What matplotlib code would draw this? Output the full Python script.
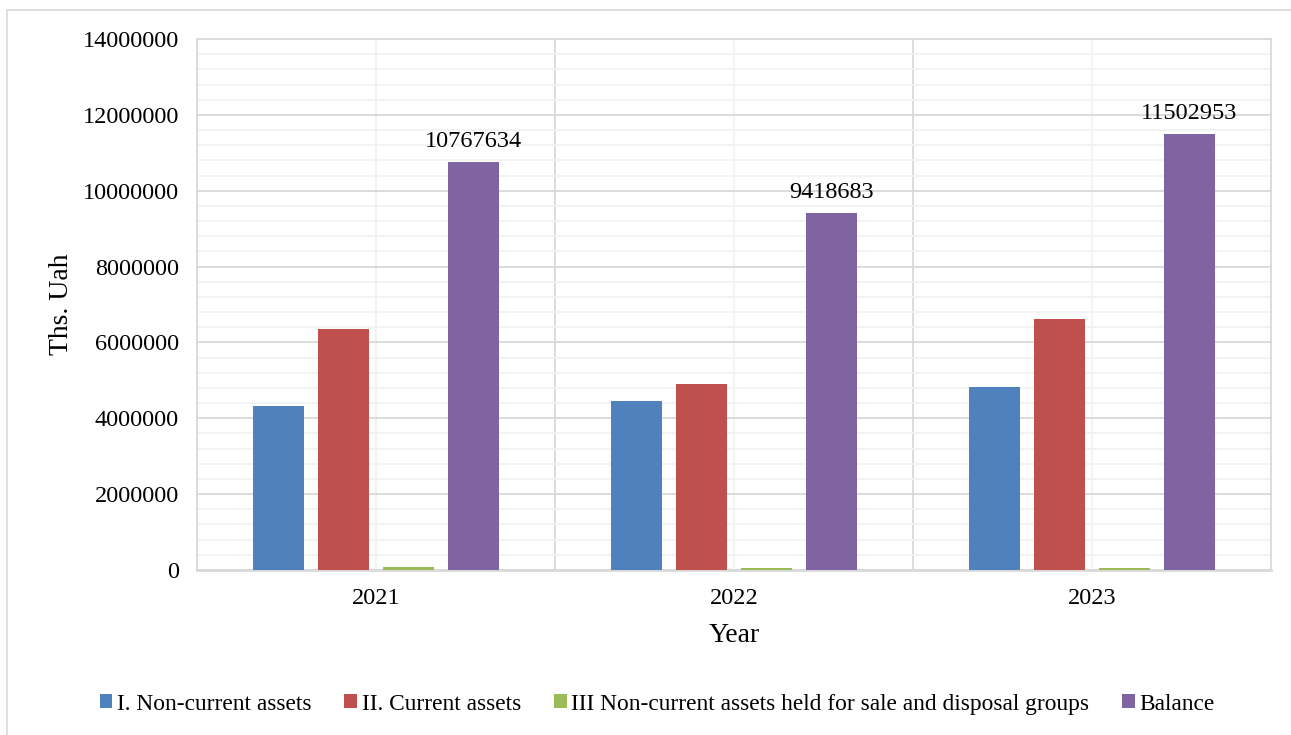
import numpy as np
import matplotlib.pyplot as plt
from matplotlib.patches import Rectangle
from matplotlib.ticker import MultipleLocator, FixedLocator

plt.rcParams['font.family'] = ['Liberation Serif', 'DejaVu Serif']

years = ['2021', '2022', '2023']
non_current = [4330000, 4460000, 4820000]
current = [6360000, 4900000, 6620000]
held_for_sale = [77634, 58683, 62953]
balance = [10767634, 9418683, 11502953]

series = [
    ('I. Non-current assets', non_current, '#4f81bd'),
    ('II. Current assets', current, '#c0504d'),
    ('III Non-current assets held for sale and disposal groups', held_for_sale, '#9bbb59'),
    ('Balance', balance, '#8064a2'),
]

fig = plt.figure(figsize=(12.91, 7.35), dpi=100)
# outer chart frame
fig.patches.append(Rectangle((7 / 1291, -0.1), 1.2, 1.1 - 10 / 735,
                             transform=fig.transFigure, fill=False,
                             edgecolor='#d9d9d9', linewidth=1.2))

ax = fig.add_axes([197 / 1291, 1 - 570 / 735, 1074 / 1291, 531 / 735])

x = np.arange(len(years))
width = 0.14
step = 0.1816
for i, (name, vals, color) in enumerate(series):
    bars = ax.bar(x + (i - 1.5) * step, vals, width, color=color, label=name, zorder=3)
    if name == 'Balance':
        for b, v in zip(bars, vals):
            ax.annotate(str(v), (b.get_x() + b.get_width() / 2, v),
                        xytext=(0, 7), textcoords='offset points',
                        ha='center', va='bottom', fontsize=17.5)

ax.set_xlim(-0.5, 2.5)
ax.set_ylim(0, 14000000)
ax.yaxis.set_major_locator(MultipleLocator(2000000))
ax.yaxis.set_minor_locator(MultipleLocator(400000))
ax.xaxis.set_major_locator(FixedLocator([0.5, 1.5]))
ax.xaxis.set_minor_locator(FixedLocator([0, 1, 2]))
ax.yaxis.set_major_formatter(plt.FuncFormatter(lambda v, p: f'{int(v)}'))

ax.grid(which='minor', color='#f2f2f2', linewidth=1.3, zorder=0)
ax.grid(which='major', color='#d9d9d9', linewidth=1.3, zorder=1)

ax.set_xticklabels([], minor=False)
ax.set_xticks([0, 1, 2], labels=years, minor=True)
ax.tick_params(axis='x', which='both', length=0, pad=13, labelsize=17.5)
ax.tick_params(axis='y', which='both', length=0, pad=13, labelsize=17.5)

for side in ['top', 'right', 'left']:
    ax.spines[side].set_color('#d9d9d9')
    ax.spines[side].set_linewidth(1.3)
ax.spines['bottom'].set_color('#d9d9d9')
ax.spines['bottom'].set_linewidth(2)

ax.set_xlabel('Year', fontsize=20, labelpad=10)
ax.set_ylabel('Ths. Uah', fontsize=20, labelpad=6)

fig.legend(loc='center', bbox_to_anchor=(0.509, 0.042), ncol=4, frameon=False,
           fontsize=16.8, handlelength=0.55, handleheight=0.55, handletextpad=0.2,
           columnspacing=1.4)

fig.savefig('out.png', dpi=100)
